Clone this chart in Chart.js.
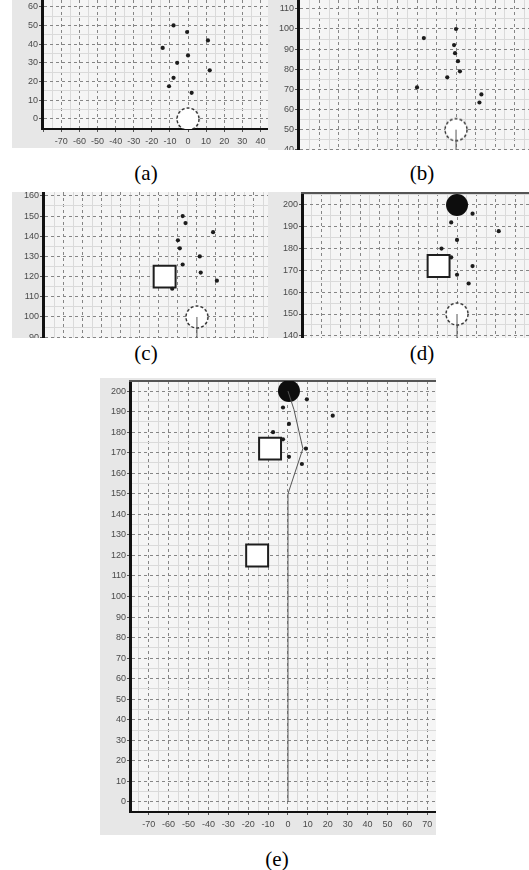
<!DOCTYPE html>
<html>
<head>
<meta charset="utf-8">
<script src="https://cdn.jsdelivr.net/npm/chart.js@4.4.1/dist/chart.umd.min.js"></script>
<style>
  html, body { margin:0; padding:0; background:#fff; }
  body { width:529px; height:870px; position:relative; overflow:hidden; }
  canvas { position:absolute; background:#e7e7e7; }
  .cap { position:absolute; font-family:"Liberation Serif","Times New Roman",serif; font-size:21px; color:#000; transform:translate(-50%,-50%); white-space:nowrap; }
</style>
</head>
<body>
<canvas id="pa" width="256" height="148" style="left:12px;top:0px"></canvas>
<canvas id="pb" width="261" height="150" style="left:268px;top:0px"></canvas>
<canvas id="pc" width="256" height="146" style="left:12px;top:192px"></canvas>
<canvas id="pd" width="261" height="146" style="left:268px;top:192px"></canvas>
<canvas id="pe" width="336" height="457" style="left:100px;top:378px"></canvas>
<div class="cap" style="left:146px;top:173px">(a)</div>
<div class="cap" style="left:422px;top:173px">(b)</div>
<div class="cap" style="left:146px;top:353px">(c)</div>
<div class="cap" style="left:422px;top:353px">(d)</div>
<div class="cap" style="left:277px;top:859px">(e)</div>
<script>
// ---------- data ----------
// panel (a)
const dotsA_x = [-8, -0.5, 11, -14, 0, -6, 12, -8, -10.5, 2];
const dotsA_y = [50, 46.5, 42, 38, 34, 30, 26, 22, 17.5, 14];
const startA = [0, 0];
// panel (b)
const dotsB_x = [0, -16.5, -1, -0.5, 1, 2, -4.5, -20, 13, 12];
const dotsB_y = [100, 95.5, 92, 88, 84, 79, 76, 71, 67.5, 63.5];
const startB = [0, 50];
const pathB_x = [0, 0];
const pathB_y = [0, 50];
// panel (c)
const dotsC_x = [-7.5, -6, 8.5, -10, -9, 1.5, -7.5, 2, 10.5, -13];
const dotsC_y = [150, 146.5, 142, 138, 134, 130, 126, 122, 118, 114];
const startC = [0, 100];
const squaresC_x = [-17];
const squaresC_y = [120];
const pathC_x = [0, 0];
const pathC_y = [0, 100];
// panel (d)
const dotsD_x = [8, -3, 21.5, 0, -8, -3, 8, 0, 6];
const dotsD_y = [196, 192, 188, 184, 180, 176, 172, 168, 164];
const startD = [0, 150];
const goalD = [0, 200];
const squaresD_x = [-9.5];
const squaresD_y = [172];
const pathD_x = [0, 0];
const pathD_y = [0, 150];
// panel (e)
const dotsE_x = [9.5, -2.5, 22.5, 0.5, -7.5, -2.5, 9, 0.5, 7];
const dotsE_y = [196, 192, 188, 184, 180, 176.5, 172, 168, 164.5];
const goalE = [0.5, 200];
const squaresE_x = [-9, -15.5];
const squaresE_y = [172, 120];
const pathE_x = [0, 0, 7.5, 3, 0];
const pathE_y = [0, 150, 172, 191, 200];
// tick step
const majorStep = 10;
const minorStep = 5;

// ---------- helpers ----------
const pts = (xs, ys) => xs.map((x, i) => ({x, y: ys[i]}));
const isMajor = ctx => ctx.tick && Math.abs(ctx.tick.value % majorStep) < 1e-6;

function dashedCircle() {
  const c = document.createElement('canvas');
  c.width = 26; c.height = 26;
  const g = c.getContext('2d');
  g.beginPath(); g.arc(13, 13, 11, 0, Math.PI * 2);
  g.fillStyle = '#ffffff'; g.fill();
  g.setLineDash([3, 2]); g.lineWidth = 1.4; g.strokeStyle = '#2a2a2a'; g.stroke();
  return c;
}
const hollowStyle = dashedCircle();

const plotBg = {
  id: 'plotBg',
  beforeDraw(chart) {
    const {ctx, chartArea: a} = chart;
    ctx.save();
    ctx.fillStyle = '#f5f5f5';
    ctx.fillRect(a.left, a.top, a.right - a.left, a.bottom - a.top);
    ctx.restore();
  }
};

function fixW(w) { return s => { s.width = w; s.paddingTop = 0; s.paddingBottom = 0; s.paddingLeft = 0; s.paddingRight = 0; }; }
function fixH(h) { return s => { s.height = h; s.paddingTop = 0; s.paddingBottom = 0; s.paddingLeft = 0; s.paddingRight = 0; }; }

const tickFont = {family: "'Liberation Sans', Arial, sans-serif", size: 9};
const gridColor = ctx => isMajor(ctx) ? '#858585' : '#dadada';
const gridDash = ctx => isMajor(ctx) ? [3, 3] : [];
const tickColor = ctx => isMajor(ctx) ? '#555' : 'rgba(0,0,0,0)';
function labelCb(minV) {
  return v => (Math.abs(v % majorStep) < 1e-6 && v - minV > 2 ? String(Math.round(v)) : '');
}

function panel(id, c) {
  const ds = [];
  if (c.path) ds.push({data: pts(c.path[0], c.path[1]), showLine: true, borderColor: '#555', borderWidth: 1,
    pointRadius: 0, fill: false, order: 0});
  ds.push({data: pts(c.dots[0], c.dots[1]), pointStyle: 'circle', pointRadius: 2.1, backgroundColor: '#1c1c1c',
    borderWidth: 0, order: 1});
  if (c.squares) ds.push({data: pts(c.squares[0], c.squares[1]), pointStyle: 'rect', pointRadius: 15.5,
    backgroundColor: '#ffffff', borderColor: '#1e1e1e', borderWidth: 2, order: 2});
  if (c.goal) ds.push({data: [{x: c.goal[0], y: c.goal[1]}], pointStyle: 'circle', pointRadius: 11,
    backgroundColor: '#0d0d0d', borderWidth: 0, order: 2});
  if (c.start) ds.push({data: [{x: c.start[0], y: c.start[1]}], pointStyle: hollowStyle, pointRadius: 11, order: 3});

  const scales = {
    x: {
      type: 'linear', min: c.x[0], max: c.x[1], position: 'bottom',
      afterFit: fixH(c.xh),
      ticks: {stepSize: minorStep, autoSkip: false, includeBounds: false, maxRotation: 0, display: c.xh > 0,
        callback: labelCb(c.x[0]), font: tickFont, color: '#4a4a4a', padding: 4},
      grid: {color: gridColor, tickColor: tickColor, drawTicks: c.xh > 0, tickLength: 3, lineWidth: 1},
      border: {display: c.xh > 0, color: '#111', width: 2, dash: gridDash}
    },
    y: {
      type: 'linear', min: c.y[0], max: c.y[1], position: 'left',
      afterFit: fixW(c.yw),
      ticks: {stepSize: minorStep, autoSkip: false, includeBounds: false,
        callback: labelCb(c.y[0] - 10), font: tickFont, color: '#4a4a4a', padding: 1},
      grid: {color: gridColor, tickColor: tickColor, drawTicks: true, tickLength: 3, lineWidth: 1},
      border: {display: true, color: '#111', width: 3, dash: gridDash}
    }
  };
  if (c.topBorder) {
    scales.xt = {type: 'linear', min: c.x[0], max: c.x[1], position: 'top', afterFit: fixH(0),
      ticks: {display: false}, grid: {display: false}, border: {display: true, color: '#555', width: 2}};
  }
  new Chart(document.getElementById(id), {
    type: 'scatter',
    data: {datasets: ds},
    options: {
      responsive: false, animation: false, devicePixelRatio: 1,
      layout: {autoPadding: false, padding: {top: c.padTop || 0, left: 0, right: 0, bottom: 0}},
      plugins: {legend: {display: false}, tooltip: {enabled: false}},
      scales
    },
    plugins: [plotBg]
  });
}

panel('pa', {x: [-80.7, 44.2], y: [-5.35, 63.6], xh: 19, yw: 30,
  dots: [dotsA_x, dotsA_y], start: startA});
panel('pb', {x: [-81, 37.4], y: [39.9, 114.4], xh: 0, yw: 30,
  dots: [dotsB_x, dotsB_y], start: startB, path: [pathB_x, pathB_y]});
panel('pc', {x: [-81, 37.4], y: [89.6, 161.9], xh: 0, yw: 31,
  dots: [dotsC_x, dotsC_y], start: startC, squares: [squaresC_x, squaresC_y], path: [pathC_x, pathC_y]});
panel('pd', {x: [-79.9, 37.1], y: [139, 205.5], xh: 0, yw: 34, padTop: 1, topBorder: true,
  dots: [dotsD_x, dotsD_y], start: startD, goal: goalD, squares: [squaresD_x, squaresD_y], path: [pathD_x, pathD_y]});
panel('pe', {x: [-79.4, 74.4], y: [-4.87, 204.9], xh: 23, yw: 30, padTop: 3, topBorder: true,
  dots: [dotsE_x, dotsE_y], goal: goalE, squares: [squaresE_x, squaresE_y], path: [pathE_x, pathE_y]});
</script>
</body>
</html>
